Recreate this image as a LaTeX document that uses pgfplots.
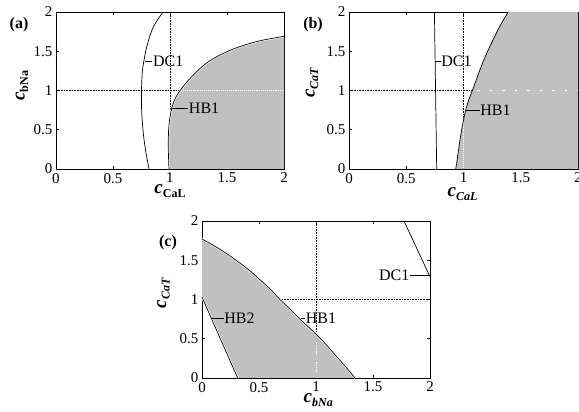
\documentclass[border=0pt]{standalone}
\usepackage{fontspec}
\setmainfont{Liberation Serif}
\usepackage{pgfplots}
\pgfplotsset{compat=1.18}

\definecolor{regiongray}{RGB}{192,192,192}

% c with a subscript, as in the figure
\newcommand{\clab}[1]{{\fontsize{19}{20}\selectfont\bfseries\itshape c}\raisebox{-3.5pt}{\fontsize{12}{12}\selectfont\bfseries #1}}

\tikzset{
  ann/.style={anchor=west, inner sep=0.5pt, font=\fontsize{16}{18}\selectfont},
}
\pgfplotsset{
  panel/.style={
    scale only axis, width=228pt, height=157pt,
    anchor=south west, clip=false,
    xmin=0, xmax=2, ymin=0, ymax=2,
    xtick={0,0.5,1,1.5,2}, ytick={0,0.5,1,1.5,2},
    tick align=inside, major tick length=3pt,
    axis line style={line width=0.9pt},
    tick style={black, line width=0.5pt},
    /pgf/number format/assume math mode=true,
    ticklabel style={font=\fontsize{15}{17}\selectfont},
    xticklabel style={yshift=-0.5pt},
  },
  grid1/.style={black, densely dotted, line width=0.6pt},
  curve/.style={black, line width=0.7pt},
  halo/.style={white, line width=2pt},
}

% boundary curves
\pgfplotstableread{
x y
0.991 0
0.986 0.2
0.985 0.35
0.988 0.5
0.994 0.6
1.003 0.69
1.015 0.77
1.032 0.85
1.053 0.92
1.088 1.0
1.12 1.06
1.161 1.13
1.21 1.205
1.263 1.28
1.33 1.36
1.41 1.43
1.5 1.495
1.585 1.545
1.69 1.595
1.79 1.634
1.9 1.665
2.0 1.69
}\hbA
\usepackage{pgfplotstable}

\begin{document}
\begin{tikzpicture}
\useasboundingbox (0,0) rectangle (579pt,412pt);

% ---------------- (a)
\begin{axis}[panel, at={(56pt,243pt)},
  xlabel={\clab{CaL}}, ylabel={\clab{bNa}},
  xlabel style={at={(rel axis cs:0.5,-0.14)}, anchor=center},
  ylabel style={at={(rel axis cs:-0.149,0.53)}, anchor=center}]
  \addplot[grid1] coordinates {(1,0) (1,2)};
  \addplot[grid1] coordinates {(0,1) (2,1)};
  \addplot[fill=regiongray, draw=none] coordinates {
    (0.991,0) (0.986,0.2) (0.985,0.35) (0.988,0.5) (0.994,0.6) (1.003,0.69)
    (1.015,0.77) (1.032,0.85) (1.053,0.92) (1.088,1.0) (1.12,1.06)
    (1.161,1.13) (1.21,1.205) (1.263,1.28) (1.33,1.36) (1.41,1.43)
    (1.5,1.495) (1.585,1.545) (1.69,1.595) (1.79,1.634) (1.9,1.665)
    (2.0,1.69) (2,0)};
  \addplot[white, densely dotted, line width=0.9pt] coordinates {(1.1,1) (2,1)};
  \addplot[halo, smooth] table {\hbA};
  \addplot[curve, smooth] table {\hbA};
  \addplot[curve, smooth] coordinates {
    (0.816,0) (0.79,0.2) (0.77,0.4) (0.757,0.6) (0.75,0.8) (0.75,1.0)
    (0.758,1.25) (0.787,1.5) (0.82,1.68) (0.854,1.81) (0.9,1.92) (0.94,2.0)};
  \draw[line width=0.5pt] (axis cs:0.778,1.37) -- (axis cs:0.845,1.37) node[ann] {DC1};
  \draw[line width=0.5pt] (axis cs:1.015,0.77) -- (axis cs:1.16,0.77) node[ann] {HB1};
  \node[font=\fontsize{16}{18}\selectfont\bfseries] at (rel axis cs:-0.162,0.917) {(a)};
\end{axis}

% ---------------- (b)
\begin{axis}[panel, at={(349pt,243pt)}, width=229pt,
  xlabel={\clab{\itshape CaL}}, ylabel={\clab{\itshape CaT}},
  xlabel style={at={(rel axis cs:0.496,-0.16)}, anchor=center},
  ylabel style={at={(rel axis cs:-0.162,0.55)}, anchor=center}]
  \addplot[grid1] coordinates {(1,0) (1,2)};
  \addplot[grid1] coordinates {(0,1) (2,1)};
  \addplot[fill=regiongray, draw=none] coordinates {
    (0.932,0) (0.943,0.1) (0.955,0.22) (0.966,0.34) (0.978,0.45) (0.997,0.6)
    (1.019,0.75) (1.046,0.88) (1.077,1.0) (1.108,1.12) (1.14,1.25)
    (1.178,1.39) (1.217,1.52) (1.258,1.645) (1.30,1.77) (1.345,1.89)
    (1.39,2.0) (2,2) (2,0)};
  \addplot[white, dash pattern=on 2.5pt off 10pt, line width=1.2pt] coordinates {(1.12,1) (2,1)};
  \addplot[white, densely dotted, line width=0.9pt] coordinates {(1,0.02) (1,0.62)};
  \addplot[curve, smooth] coordinates {
    (0.932,0) (0.943,0.1) (0.955,0.22) (0.966,0.34) (0.978,0.45) (0.997,0.6)
    (1.019,0.75) (1.046,0.88) (1.077,1.0) (1.108,1.12) (1.14,1.25)
    (1.178,1.39) (1.217,1.52) (1.258,1.645) (1.30,1.77) (1.345,1.89)
    (1.39,2.0)};
  \addplot[curve] coordinates {(0.766,0) (0.746,2)};
  \draw[line width=0.5pt] (axis cs:0.753,1.37) -- (axis cs:0.80,1.37) node[ann] {DC1};
  \draw[line width=0.5pt] (axis cs:1.019,0.75) -- (axis cs:1.14,0.75) node[ann] {HB1};
  \node[font=\fontsize{16}{18}\selectfont\bfseries] at (rel axis cs:-0.157,0.917) {(b)};
\end{axis}

% ---------------- (c)
\begin{axis}[panel, at={(202pt,34pt)},
  xlabel={\clab{\itshape bNa}}, ylabel={\clab{\itshape CaT}},
  xlabel style={at={(rel axis cs:0.51,-0.14)}, anchor=center},
  ylabel style={at={(rel axis cs:-0.169,0.54)}, anchor=center}]
  \addplot[grid1] coordinates {(1,0) (1,2)};
  \addplot[grid1] coordinates {(0,1) (2,1)};
  \addplot[fill=regiongray, draw=none] coordinates {
    (0,1.03) (0,1.77) (0.1,1.69) (0.2,1.6) (0.275,1.525) (0.4,1.39)
    (0.51,1.25) (0.6,1.13) (0.684,1.0) (0.77,0.88) (0.86,0.75) (0.93,0.655)
    (1.0,0.56) (1.08,0.44) (1.152,0.32) (1.25,0.16) (1.342,0) (0.313,0)};
  \addplot[white, densely dotted, line width=0.9pt] coordinates {(1,0.08) (1,0.21)};
  \addplot[white, densely dotted, line width=0.9pt] coordinates {(1,0.29) (1,0.46)};
  \addplot[halo, smooth] coordinates {
    (0,1.77) (0.1,1.69) (0.2,1.6) (0.275,1.525) (0.4,1.39)
    (0.51,1.25) (0.6,1.13) (0.684,1.0) (0.77,0.88) (0.86,0.75) (0.93,0.655)
    (1.0,0.56) (1.08,0.44) (1.152,0.32) (1.25,0.16) (1.342,0)};
  \addplot[halo] coordinates {(0,1.03) (0.313,0)};
  \addplot[curve, smooth] coordinates {
    (0,1.77) (0.1,1.69) (0.2,1.6) (0.275,1.525) (0.4,1.39)
    (0.51,1.25) (0.6,1.13) (0.684,1.0) (0.77,0.88) (0.86,0.75) (0.93,0.655)
    (1.0,0.56) (1.08,0.44) (1.152,0.32) (1.25,0.16) (1.342,0)};
  \addplot[curve] coordinates {(0,1.03) (0.313,0)};
  \addplot[curve] coordinates {(1.772,2) (2,1.29)};
  \draw[line width=0.5pt] (axis cs:0.083,0.76) -- (axis cs:0.19,0.76) node[ann] {HB2};
  \draw[line width=0.5pt] (axis cs:0.868,0.76) -- (axis cs:0.905,0.76) node[ann] {HB1};
  \draw[line width=0.5pt] (axis cs:1.995,1.31) -- (axis cs:1.825,1.31) node[ann, anchor=east] {DC1};
  \node[font=\fontsize{16}{18}\selectfont\bfseries] at (rel axis cs:-0.149,0.86) {(c)};
\end{axis}
\end{tikzpicture}
\end{document}
